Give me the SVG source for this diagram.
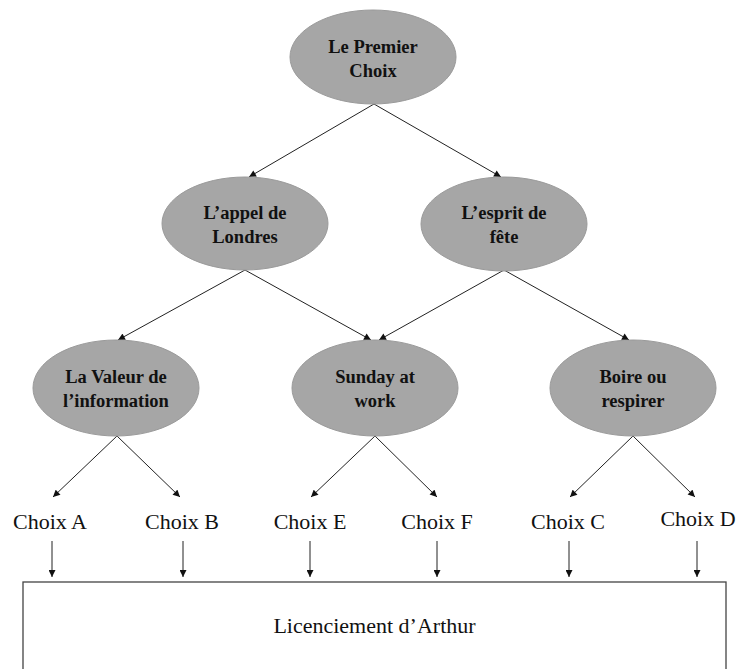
<svg xmlns="http://www.w3.org/2000/svg" width="737" height="669" viewBox="0 0 737 669">
<style>
.node ellipse{fill:#a6a6a6;stroke:#9a9a9a;stroke-width:1}
.lbl{font-family:"Liberation Serif","Times New Roman",serif;font-weight:bold;font-size:18.5px;fill:#111;text-anchor:middle}
.reg{font-family:"Liberation Serif","Times New Roman",serif;font-size:22px;fill:#111;text-anchor:middle}
.edge{stroke:#222;stroke-width:1;fill:none;marker-end:url(#ah)}
</style>
<defs>
<marker id="ah" viewBox="0 0 10 10" refX="10" refY="5" markerWidth="8" markerHeight="7" markerUnits="userSpaceOnUse" orient="auto">
<path d="M0,0 L10,5 L0,10 z" fill="#111"/>
</marker>
</defs>
<rect width="737" height="669" fill="#fff"/>
<g id="connectors">
<line class="edge" x1="374" y1="104" x2="249" y2="177"/>
<line class="edge" x1="374" y1="104" x2="501" y2="177"/>
<line class="edge" x1="245" y1="270" x2="118" y2="340"/>
<line class="edge" x1="245" y1="270" x2="371" y2="340"/>
<line class="edge" x1="504" y1="270" x2="379" y2="340"/>
<line class="edge" x1="504" y1="270" x2="629" y2="340"/>
<line class="edge" x1="117" y1="436" x2="53" y2="497"/>
<line class="edge" x1="117" y1="436" x2="180" y2="497"/>
<line class="edge" x1="375" y1="436" x2="311" y2="497"/>
<line class="edge" x1="375" y1="436" x2="437" y2="497"/>
<line class="edge" x1="633" y1="436" x2="570" y2="497"/>
<line class="edge" x1="633" y1="436" x2="695" y2="497"/>
<line class="edge" x1="52" y1="541" x2="52" y2="577"/>
<line class="edge" x1="183" y1="541" x2="183" y2="577"/>
<line class="edge" x1="310" y1="541" x2="310" y2="577"/>
<line class="edge" x1="437" y1="541" x2="437" y2="577"/>
<line class="edge" x1="569" y1="541" x2="569" y2="577"/>
<line class="edge" x1="697" y1="541" x2="697" y2="577"/>
</g>
<g id="n-premier" class="node">
<ellipse cx="373" cy="57" rx="83" ry="47"/>
<text class="lbl" x="373" y="53">Le Premier</text>
<text class="lbl" x="373" y="77">Choix</text>
</g>
<g id="n-appel" class="node">
<ellipse cx="245" cy="223.5" rx="83" ry="46.5"/>
<text class="lbl" x="245" y="219">L’appel de</text>
<text class="lbl" x="245" y="243">Londres</text>
</g>
<g id="n-esprit" class="node">
<ellipse cx="504" cy="224" rx="83" ry="47"/>
<text class="lbl" x="504" y="219">L’esprit de</text>
<text class="lbl" x="504" y="243">fête</text>
</g>
<g id="n-valeur" class="node">
<ellipse cx="116" cy="388" rx="83" ry="48"/>
<text class="lbl" x="116" y="383">La Valeur de</text>
<text class="lbl" x="116" y="407">l’information</text>
</g>
<g id="n-sunday" class="node">
<ellipse cx="375" cy="388" rx="83" ry="48"/>
<text class="lbl" x="375" y="383">Sunday at</text>
<text class="lbl" x="375" y="407">work</text>
</g>
<g id="n-boire" class="node">
<ellipse cx="633" cy="388" rx="83" ry="48"/>
<text class="lbl" x="633" y="383">Boire ou</text>
<text class="lbl" x="633" y="407">respirer</text>
</g>
<g id="n-choixA"><text class="reg" x="50" y="529">Choix A</text></g>
<g id="n-choixB"><text class="reg" x="182" y="529">Choix B</text></g>
<g id="n-choixE"><text class="reg" x="310" y="529">Choix E</text></g>
<g id="n-choixF"><text class="reg" x="437" y="529">Choix F</text></g>
<g id="n-choixC"><text class="reg" x="568" y="529">Choix C</text></g>
<g id="n-choixD"><text class="reg" x="698" y="526">Choix D</text></g>
<g id="n-licenciement">
<rect x="23" y="582" width="703" height="100" fill="none" stroke="#444" stroke-width="1.3"/>
<text class="reg" x="374.5" y="633">Licenciement d’Arthur</text>
</g>
</svg>
